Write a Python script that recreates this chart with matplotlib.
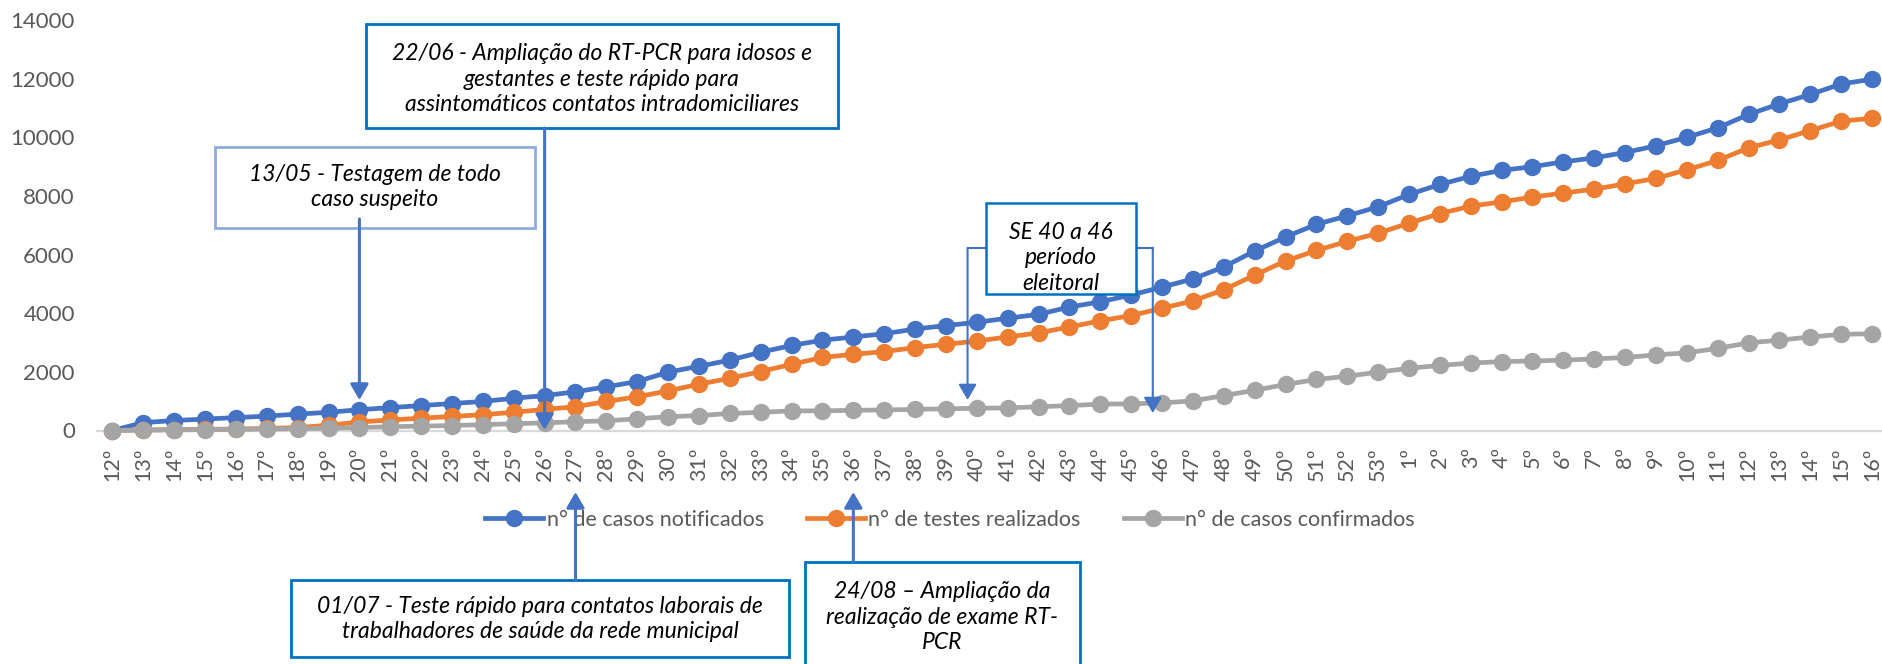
import matplotlib
matplotlib.use("Agg")
import matplotlib.pyplot as plt
import matplotlib.transforms as mtransforms
from matplotlib.lines import Line2D
from matplotlib.patches import FancyArrowPatch, Rectangle

plt.rcParams["font.family"] = ["Lato", "DejaVu Sans"]

# epidemiological weeks (2020: 12-53, 2021: 1-16)
weeks = [f"{w}º" for w in range(12, 54)] + [f"{w}º" for w in range(1, 17)]

notificados = [
    0, 270, 340, 390, 440, 490, 560, 620, 710, 780, 850, 920, 990, 1100, 1190,
    1320, 1490, 1670, 1990, 2190, 2400, 2670, 2900, 3080, 3190, 3300, 3460, 3580,
    3690, 3830, 3960, 4210, 4390, 4620, 4890, 5170, 5580, 6120, 6600, 7030, 7320,
    7630, 8050, 8390, 8670, 8870, 9000, 9160, 9300, 9480, 9710, 10000, 10320,
    10780, 11140, 11460, 11820, 11980,
]
testes = [
    0, 20, 30, 40, 50, 70, 100, 180, 290, 360, 420, 480, 540, 620, 720,
    810, 990, 1150, 1350, 1580, 1780, 2010, 2260, 2490, 2600, 2690, 2830, 2940,
    3050, 3190, 3330, 3530, 3740, 3920, 4170, 4420, 4800, 5300, 5780, 6140, 6450,
    6730, 7070, 7400, 7650, 7800, 7960, 8100, 8230, 8410, 8600, 8890, 9210,
    9640, 9910, 10230, 10550, 10650,
]
confirmados = [
    0, 10, 20, 30, 40, 50, 60, 80, 100, 130, 150, 170, 200, 230, 260,
    300, 330, 400, 470, 510, 580, 620, 670, 670, 690, 700, 720, 740,
    760, 770, 810, 850, 900, 910, 940, 1010, 1190, 1370, 1570, 1740, 1850,
    1990, 2120, 2220, 2300, 2350, 2370, 2400, 2440, 2490, 2580, 2650, 2800,
    2990, 3080, 3190, 3280, 3300,
]
series_names = ["n° de casos notificados", "n° de testes realizados", "n° de casos confirmados"]
series_colors = ["#4472C4", "#ED7D31", "#A5A5A5"]

W, H = 1882, 664
fig = plt.figure(figsize=(W / 100, H / 100), dpi=100)
ax = fig.add_axes([97 / W, 1 - 430.5 / H, (1887.5 - 97) / W, (430.5 - 20) / H])

x = list(range(len(weeks)))
for vals, name, col in zip([notificados, testes, confirmados], series_names, series_colors):
    ax.plot(x, vals, color=col, lw=3.4, marker="o", ms=11.5, label=name, clip_on=False)

ax.set_xlim(-0.5, len(weeks) - 0.5)
ax.set_ylim(0, 14000)
ax.set_yticks(range(0, 14001, 2000))
ax.set_xticks(x)
ax.set_xticklabels(weeks, rotation=90)
ax.tick_params(axis="both", length=0, labelsize=16, labelcolor="#595959")
ax.tick_params(axis="x", labelsize=15.5)
ax.tick_params(axis="y", pad=16)
ax.tick_params(axis="x", pad=12)
for s in ["top", "right", "left"]:
    ax.spines[s].set_visible(False)
ax.spines["bottom"].set_color("#D9D9D9")
ax.spines["bottom"].set_linewidth(1.6)
ax.spines["bottom"].set_zorder(0)

leg = ax.legend(loc="center", bbox_to_anchor=(950 / W, 1 - 520 / H),
                bbox_transform=fig.transFigure, ncol=3, frameon=False,
                fontsize=15.5, handlelength=2.7, handletextpad=0.15,
                columnspacing=2.0, borderaxespad=0)
for t in leg.get_texts():
    t.set_color("#595959")


# annotation helpers (pixel positions of the original picture)
def box(x0, y0, x1, y1, ec, lw=2.0):
    fig.add_artist(Rectangle((x0 / W, 1 - y1 / H), (x1 - x0) / W, (y1 - y0) / H,
                             transform=fig.transFigure, fc="white", ec=ec, lw=lw, zorder=5))


def note(cx, cy, text, spacing=1.28):
    fig.text(cx / W, 1 - cy / H, text, ha="center", va="center", style="italic",
             fontsize=16.5, color="black", linespacing=spacing, zorder=7)


blend = mtransforms.blended_transform_factory(ax.transData, fig.transFigure)


def arrow(week, y_from, y_to, lw=2.2, dx=0.0):
    xi = weeks.index(week) + dx
    fig.add_artist(FancyArrowPatch((xi, 1 - y_from / H), (xi, 1 - y_to / H),
                                   transform=blend, arrowstyle="-|>,head_length=0.95,head_width=0.55",
                                   mutation_scale=10, color="#4472C4", lw=lw,
                                   shrinkA=0, shrinkB=0, zorder=6))


# 13/05
box(215, 147, 535, 228, "#8FAADC")
note(375, 187, "13/05 - Testagem de todo\ncaso suspeito")
arrow("20º", 219, 400)

# 22/06
box(366, 24, 838, 128, "#0070C0")
note(602, 79, "22/06 - Ampliação do RT-PCR para idosos e\ngestantes e teste rápido para\nassintomáticos contatos intradomiciliares")
arrow("26º", 128, 430)

# SE 40 a 46
box(986, 203, 1136, 294, "#0070C0", lw=1.8)
note(1061, 258, "SE 40 a 46\nperíodo\neleitoral")
for wk, x_edge in [("40º", 986), ("46º", 1136)]:
    xi = weeks.index(wk) - 0.3
    xe = ax.transData.inverted().transform(fig.transFigure.transform((x_edge / W, 0)))[0]
    fig.add_artist(Line2D([xi, xe], [1 - 248 / H, 1 - 248 / H], transform=blend,
                          color="#4472C4", lw=1.5, zorder=4))
    y_tip = 400 if wk == "40º" else 413
    arrow(wk, 248, y_tip, lw=1.5, dx=-0.3)

# 01/07
box(291, 580, 789, 657, "#0070C0")
note(540, 619, "01/07 - Teste rápido para contatos laborais de\ntrabalhadores de saúde da rede municipal")
arrow("27º", 580, 492)

# 24/08
box(805, 562, 1080, 680, "#0070C0")
note(942, 617, "24/08 – Ampliação da\nrealização de exame RT-\nPCR")
arrow("36º", 562, 492)

fig.savefig("out.png", dpi=100)
